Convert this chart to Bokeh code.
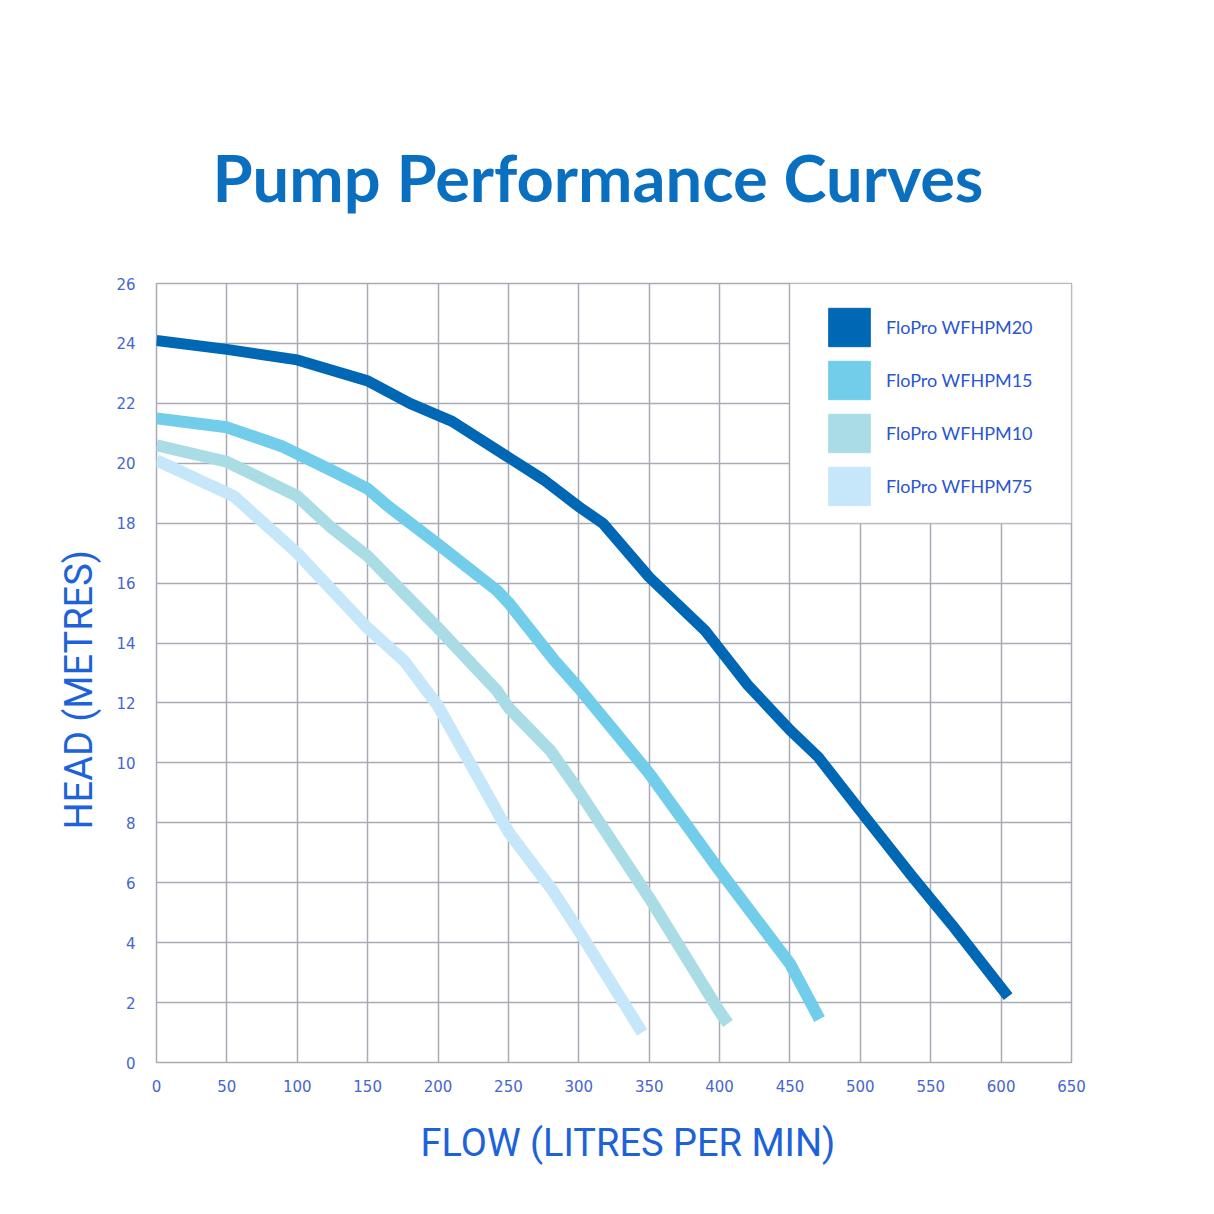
from bokeh.plotting import figure
from bokeh.models import Range1d, FixedTicker, BoxAnnotation, Legend, LegendItem, Title
from bokeh.embed import file_html
from bokeh.resources import INLINE

# ---- data (flow in litres/min, head in metres) ----
series_names = ["FloPro WFHPM20", "FloPro WFHPM15", "FloPro WFHPM10", "FloPro WFHPM75"]

flow_m20 = [0, 50, 100, 150, 180, 210, 250, 275, 300, 317, 350, 390, 420, 450, 470, 500, 537, 565, 605]
head_m20 = [24.1, 23.8, 23.45, 22.75, 22.0, 21.4, 20.2, 19.45, 18.55, 18.0, 16.2, 14.4, 12.6, 11.1, 10.2, 8.4, 6.2, 4.6, 2.2]

flow_m15 = [0, 50, 90, 127, 150, 165, 200, 242, 250, 283, 300, 350, 400, 450, 471]
head_m15 = [21.5, 21.2, 20.55, 19.7, 19.15, 18.55, 17.3, 15.75, 15.35, 13.4, 12.5, 9.65, 6.4, 3.3, 1.45]

flow_m10 = [0, 50, 100, 123, 150, 200, 242, 250, 280, 300, 350, 400, 406]
head_m10 = [20.6, 20.05, 18.9, 17.9, 16.9, 14.5, 12.4, 11.85, 10.4, 9.06, 5.5, 1.7, 1.3]

flow_m75 = [0, 55, 100, 123, 150, 176, 200, 250, 282, 300, 345]
head_m75 = [20.1, 18.9, 17.0, 15.85, 14.5, 13.4, 11.9, 7.7, 5.7, 4.4, 1.0]

x_ticks = list(range(0, 651, 50))
y_ticks = list(range(0, 27, 2))

# ---- styles ----
colors = ["#0067b4", "#72cdea", "#a9dce4", "#c6e7fa"]
widths = [11, 12, 12, 12]
grid_col = "#a9aab5"
tick_col = "#4565d2"
label_col = "#1c63d9"
nan = float("nan")

p = figure(width=1214, height=1214, output_backend="svg", toolbar_location=None,
           x_range=Range1d(0, 650), y_range=Range1d(0, 26),
           min_border_left=156, min_border_right=143, min_border_top=283, min_border_bottom=152,
           background_fill_color="white", border_fill_color="white")

p.title = Title(text="Pump Performance Curves", align="left", text_font="Lato",
                text_font_style="bold", text_font_size="65px", text_color="#0b6fc0",
                offset=56, standoff=136)

p.outline_line_color = grid_col
p.outline_line_width = 1.5

for ax in (p.xaxis[0], p.yaxis[0]):
    ax.axis_line_color = None
    ax.major_tick_line_color = None
    ax.minor_tick_line_color = None
    ax.major_label_text_color = tick_col
    ax.major_label_text_font = "DejaVu Sans"
    ax.major_label_text_font_size = "15px"

p.xaxis.ticker = FixedTicker(ticks=x_ticks)
p.yaxis.ticker = FixedTicker(ticks=y_ticks)
p.xaxis.major_label_standoff = 11
p.yaxis.major_label_standoff = 15

p.add_layout(Title(text="HEAD (METRES)", align="left", offset=233, standoff=25,
                   text_font="Roboto", text_font_style="normal", text_font_size="38px",
                   text_color=label_col), "left")
p.add_layout(Title(text="FLOW (LITRES PER MIN)", align="left", offset=264, standoff=49,
                   text_font="Roboto", text_font_style="normal", text_font_size="38px",
                   text_color=label_col), "below")

p.xgrid.grid_line_color = grid_col
p.ygrid.grid_line_color = grid_col
p.xgrid.grid_line_width = 1.5
p.ygrid.grid_line_width = 1.5

# legend panel blanks the top-right grid cells
p.add_layout(BoxAnnotation(left=x_ticks[9], right=x_ticks[13], bottom=y_ticks[9], top=y_ticks[13],
                           fill_color="white", fill_alpha=1, line_color=grid_col, line_width=1.5))

flows = [flow_m20, flow_m15, flow_m10, flow_m75]
heads = [head_m20, head_m15, head_m10, head_m75]
items = []
for name, fx, hy, c, w in zip(series_names, flows, heads, colors, widths):
    p.line(fx, hy, line_color=c, line_width=w, line_join="round", line_cap="butt")
    sw = p.quad(left=[nan], right=[nan], bottom=[nan], top=[nan], fill_color=c, line_color=c)
    items.append(LegendItem(label=name, renderers=[sw]))

legend = Legend(items=items, location=(667, 552), glyph_width=52, glyph_height=48,
                spacing=5, padding=0, margin=0, label_standoff=11,
                label_text_font="Lato", label_text_font_size="18px", label_text_color="#2a56d0",
                border_line_alpha=0, background_fill_alpha=0)
p.add_layout(legend)

open("out.html", "w").write(file_html(p, INLINE))
